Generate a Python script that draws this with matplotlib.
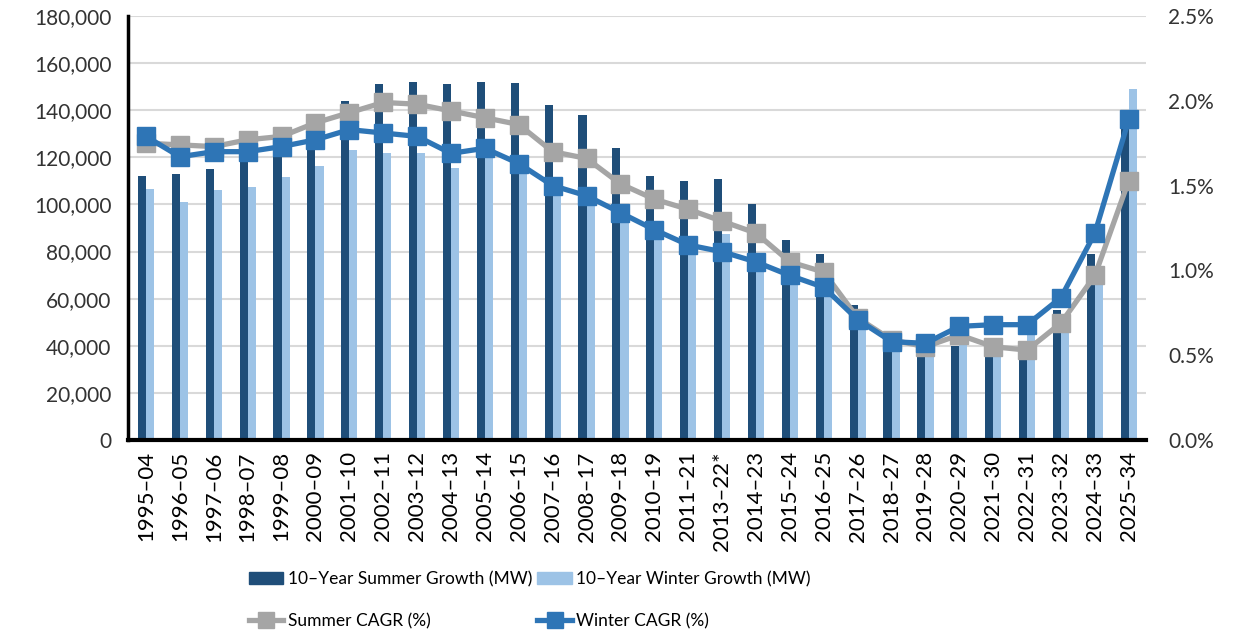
#!/usr/bin/env python3
"""10-year summer/winter peak growth with CAGR overlay."""

import matplotlib

matplotlib.use("Agg")
import matplotlib.pyplot as plt
import numpy as np
from matplotlib.lines import Line2D
from matplotlib.patches import Patch
from matplotlib.ticker import FuncFormatter

plt.rcParams["font.family"] = ["Lato", "DejaVu Sans"]

periods = [
    "1995–04", "1996–05", "1997–06", "1998–07", "1999–08", "2000–09",
    "2001–10", "2002–11", "2003–12", "2004–13", "2005–14", "2006–15",
    "2007–16", "2008–17", "2009–18", "2010–19", "2011–21", "2013–22*",
    "2014–23", "2015–24", "2016–25", "2017–26", "2018–27", "2019–28",
    "2020–29", "2021–30", "2022–31", "2023–32", "2024–33", "2025–34",
]
summer_mw = [
    112000, 113000, 115000, 121000, 124000, 128000,
    144000, 151000, 152000, 151000, 152000, 151500,
    142000, 138000, 124000, 112000, 110000, 111000,
    100000, 85000, 79000, 57300, 46000, 37000,
    40000, 37000, 34000, 55000, 79000, 132000,
]
winter_mw = [
    106500, 101000, 106000, 107500, 111500, 116500,
    123000, 122000, 122000, 115500, 119500, 114000,
    105000, 102000, 93000, 86000, 79000, 87300,
    75000, 68000, 63500, 52300, 41000, 40000,
    45000, 42000, 44600, 49700, 71000, 149000,
]
summer_cagr = [
    1.75, 1.74, 1.73, 1.77, 1.79, 1.87,
    1.93, 1.99, 1.98, 1.94, 1.90, 1.86,
    1.70, 1.66, 1.51, 1.42, 1.36, 1.29,
    1.22, 1.05, 0.99, 0.72, 0.59, 0.55,
    0.62, 0.55, 0.53, 0.69, 0.97, 1.53,
]
winter_cagr = [
    1.79, 1.67, 1.70, 1.70, 1.73, 1.77,
    1.83, 1.81, 1.79, 1.69, 1.72, 1.63,
    1.50, 1.44, 1.34, 1.24, 1.15, 1.11,
    1.05, 0.97, 0.90, 0.71, 0.58, 0.57,
    0.67, 0.68, 0.68, 0.84, 1.22, 1.89,
]

DARK = "#1F4E79"
LIGHT = "#9DC3E6"
GREY = "#A5A5A5"
BLUE = "#2E75B6"

fig = plt.figure(figsize=(12.42, 6.39), dpi=100)
ax = fig.add_axes([0.1031, 0.3114, 0.8194, 0.6636])
x = np.arange(len(periods))
w = 0.24

ax.bar(x - w / 2, summer_mw, width=w, color=DARK, zorder=2)
ax.bar(x + w / 2, winter_mw, width=w, color=LIGHT, zorder=2)
ax.set_ylim(0, 180000)
ax.set_yticks(np.arange(0, 180001, 20000))
ax.yaxis.set_major_formatter(FuncFormatter(lambda v, _: f"{v:,.0f}"))
ax.set_xlim(-0.53, len(periods) - 0.5)
ax.set_xticks(x)
ax.set_xticklabels(periods, rotation=90)
ax.grid(axis="y", color="#D9D9D9", linewidth=1.5, zorder=0)
ax.set_axisbelow(True)
ax.tick_params(axis="y", length=0, pad=12, labelsize=15, colors="#333333")
ax.tick_params(axis="x", length=0, pad=8, labelsize=16, colors="black")
for side in ("top", "right"):
    ax.spines[side].set_visible(False)
ax.spines["left"].set_linewidth(2.5)
ax.spines["bottom"].set_linewidth(3)

ax2 = ax.twinx()
ax2.plot(x, summer_cagr, color=GREY, lw=3.8, marker="s", ms=13, zorder=3)
ax2.plot(x, winter_cagr, color=BLUE, lw=3.8, marker="s", ms=13, zorder=4)
ax2.set_ylim(0, 2.5)
ax2.set_yticks(np.arange(0, 2.51, 0.5))
ax2.yaxis.set_major_formatter(FuncFormatter(lambda v, _: f"{v:.1f}%"))
ax2.tick_params(axis="y", length=0, pad=16, labelsize=15, colors="#333333")
for side in ("top", "right", "left", "bottom"):
    ax2.spines[side].set_visible(False)

handles = [
    Patch(color=DARK),
    Line2D([], [], color=GREY, lw=3.8, marker="s", ms=12),
    Patch(color=LIGHT),
    Line2D([], [], color=BLUE, lw=3.8, marker="s", ms=12),
]
labels = [
    "10–Year Summer Growth (MW)",
    "Summer CAGR (%)",
    "10–Year Winter Growth (MW)",
    "Winter CAGR (%)",
]
fig.legend(
    handles, labels, ncol=2, frameon=False, fontsize=12.5,
    loc="center left", bbox_to_anchor=(240 / 1242, 1 - 600 / 639),
    borderpad=0, handlelength=2.0, handletextpad=0.25,
    columnspacing=0.3, labelspacing=1.5,
)

fig.savefig("out.png", dpi=100)
